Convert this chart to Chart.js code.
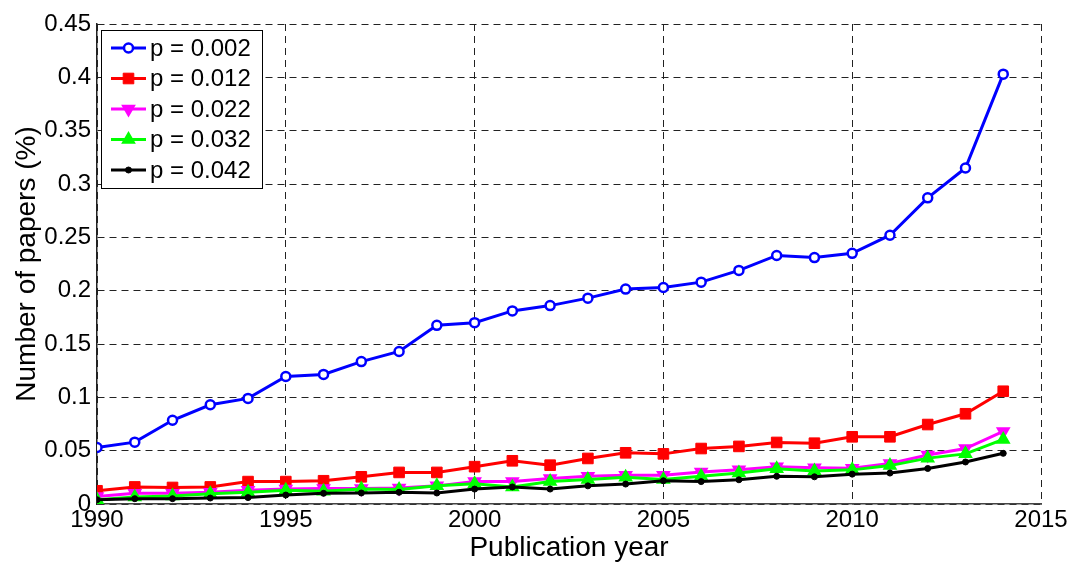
<!DOCTYPE html>
<html>
<head>
<meta charset="utf-8">
<script src="https://cdn.jsdelivr.net/npm/chart.js@4/dist/chart.umd.min.js"></script>
<style>
  html, body { margin: 0; padding: 0; background: #fff; }
  #wrap { width: 1072px; height: 565px; }
</style>
</head>
<body>
<div id="wrap"><canvas id="myChart" width="1072" height="565"></canvas></div>
<script>
// values
const years = [1990, 1991, 1992, 1993, 1994, 1995, 1996, 1997, 1998, 1999, 2000, 2001, 2002,
  2003, 2004, 2005, 2006, 2007, 2008, 2009, 2010, 2011, 2012, 2013, 2014];
const p002 = [0.053, 0.058, 0.0785, 0.093, 0.099, 0.1195, 0.1215, 0.1335, 0.143, 0.1675, 0.170, 0.181, 0.186,
  0.193, 0.2015, 0.203, 0.208, 0.219, 0.233, 0.231, 0.235, 0.252, 0.287, 0.315, 0.403];
const p012 = [0.0124, 0.016, 0.0155, 0.016, 0.021, 0.021, 0.0218, 0.0255, 0.0296, 0.0296, 0.035, 0.0405, 0.0364,
  0.0427, 0.048, 0.047, 0.052, 0.054, 0.0577, 0.057, 0.063, 0.063, 0.0745, 0.0846, 0.1057];
const p022 = [0.007, 0.010, 0.010, 0.011, 0.013, 0.014, 0.0145, 0.0145, 0.015, 0.017, 0.021, 0.021, 0.024,
  0.026, 0.027, 0.027, 0.030, 0.032, 0.035, 0.034, 0.0335, 0.038, 0.046, 0.052, 0.068];
const p032 = [0.004, 0.0065, 0.0075, 0.0095, 0.011, 0.013, 0.012, 0.014, 0.0135, 0.017, 0.019, 0.016, 0.021,
  0.023, 0.025, 0.023, 0.026, 0.029, 0.033, 0.031, 0.032, 0.036, 0.043, 0.047, 0.0605];
const p042 = [0.004, 0.005, 0.005, 0.0056, 0.006, 0.0084, 0.010, 0.0103, 0.011, 0.0103, 0.014, 0.016, 0.014,
  0.017, 0.0187, 0.0218, 0.021, 0.0227, 0.026, 0.0255, 0.028, 0.029, 0.0333, 0.0394, 0.0475];

const seriesLabels = ['p = 0.002', 'p = 0.012', 'p = 0.022', 'p = 0.032', 'p = 0.042'];
const xTicks = [1990, 1995, 2000, 2005, 2010, 2015];
const yTicks = [0, 0.05, 0.1, 0.15, 0.2, 0.25, 0.3, 0.35, 0.4, 0.45];

const FONT = "'Liberation Sans', Arial, sans-serif";

const pts = (vals) => vals.map((v, i) => ({ x: years[i], y: v }));

const styles = [
  { color: '#0000ff', pointStyle: 'circle', radius: 4.5, bg: '#ffffff', bw: 2.5, rot: 0 },
  { color: '#ff0000', pointStyle: 'rect', radius: 7.5, bg: '#ff0000', bw: 1, rot: 0 },
  { color: '#ff00ff', pointStyle: 'triangle', radius: 6.5, bg: '#ff00ff', bw: 2, rot: 180 },
  { color: '#00ff00', pointStyle: 'triangle', radius: 6.5, bg: '#00ff00', bw: 2, rot: 0 },
  { color: '#000000', pointStyle: 'circle', radius: 3, bg: '#000000', bw: 1, rot: 0 },
];

const allData = [p002, p012, p022, p032, p042];
const datasets = allData.map((vals, i) => ({
  label: seriesLabels[i],
  data: pts(vals),
  borderColor: styles[i].color,
  backgroundColor: styles[i].bg,
  borderWidth: 3,
  pointStyle: styles[i].pointStyle,
  pointRadius: styles[i].radius,
  pointRotation: styles[i].rot,
  pointBorderColor: styles[i].color,
  pointBackgroundColor: styles[i].bg,
  pointBorderWidth: styles[i].bw,
  tension: 0,
  order: 5 - i,
}));

// legend box drawn inside the plot, like the matlab one
const boxLegend = {
  id: 'boxLegend',
  afterDatasetsDraw(chart) {
    const ctx = chart.ctx;
    const x0 = 101, y0 = 30, w = 161, h = 158;
    ctx.save();
    ctx.fillStyle = '#fff';
    ctx.fillRect(x0, y0, w, h);
    ctx.strokeStyle = '#000';
    ctx.lineWidth = 1;
    ctx.strokeRect(x0 + 0.5, y0 + 0.5, w, h);
    ctx.font = '24px ' + FONT;
    ctx.textBaseline = 'middle';
    ctx.fillStyle = '#000';
    seriesLabels.forEach((lab, i) => {
      const cy = 48 + i * 30.5;
      const s = styles[i];
      ctx.strokeStyle = s.color;
      ctx.lineWidth = 3;
      ctx.beginPath();
      ctx.moveTo(111, cy);
      ctx.lineTo(146, cy);
      ctx.stroke();
      ctx.fillStyle = s.bg;
      ctx.strokeStyle = s.color;
      ctx.lineWidth = s.bw;
      Chart.helpers.drawPoint(ctx, {
        pointStyle: s.pointStyle, radius: s.radius, rotation: s.rot, borderWidth: s.bw
      }, 128.5, cy);
      ctx.fillStyle = '#000';
      ctx.fillText(lab, 150, cy + 1);
    });
    ctx.restore();
  }
};

const ctx = document.getElementById('myChart');
new Chart(ctx, {
  type: 'line',
  data: { datasets: datasets },
  options: {
    responsive: false,
    animation: false,
    layout: { padding: { top: 24, right: 31, left: 0, bottom: 0 } },
    plugins: { legend: { display: false }, tooltip: { enabled: false } },
    scales: {
      x: {
        type: 'linear',
        min: 1990,
        max: 2015,
        afterBuildTicks: (scale) => { scale.ticks = xTicks.map(v => ({ value: v })); },
        afterFit: (scale) => { scale.height = 61; scale.paddingLeft = 0; scale.paddingRight = 0; },
        ticks: {
          color: '#000',
          font: { family: FONT, size: 24 },
          padding: 2,
          maxRotation: 0,
          callback: (v) => String(v),
        },
        grid: { color: '#222', lineWidth: 1, tickLength: 0 },
        border: { display: true, color: '#444', width: 1.5, dash: [7, 5] },
        title: {
          display: true,
          text: 'Publication year',
          color: '#000',
          font: { family: FONT, size: 28 },
          padding: { top: 0, bottom: 0 },
        },
      },
      y: {
        min: 0,
        max: 0.45,
        afterBuildTicks: (scale) => { scale.ticks = yTicks.map(v => ({ value: v })); },
        afterFit: (scale) => { scale.width = 97; scale.paddingTop = 0; scale.paddingBottom = 0; },
        ticks: {
          color: '#000',
          font: { family: FONT, size: 24 },
          padding: 6,
          callback: (v) => String(Math.round(v * 100) / 100),
        },
        grid: { color: '#222', lineWidth: 1, tickLength: 0 },
        border: { display: true, color: '#222', width: 1.5, dash: [7, 5] },
        title: {
          display: true,
          text: 'Number of papers (%)',
          color: '#000',
          font: { family: FONT, size: 28 },
          padding: { top: 10, bottom: 0 },
        },
      },
    },
  },
  plugins: [boxLegend],
});
</script>
</body>
</html>
